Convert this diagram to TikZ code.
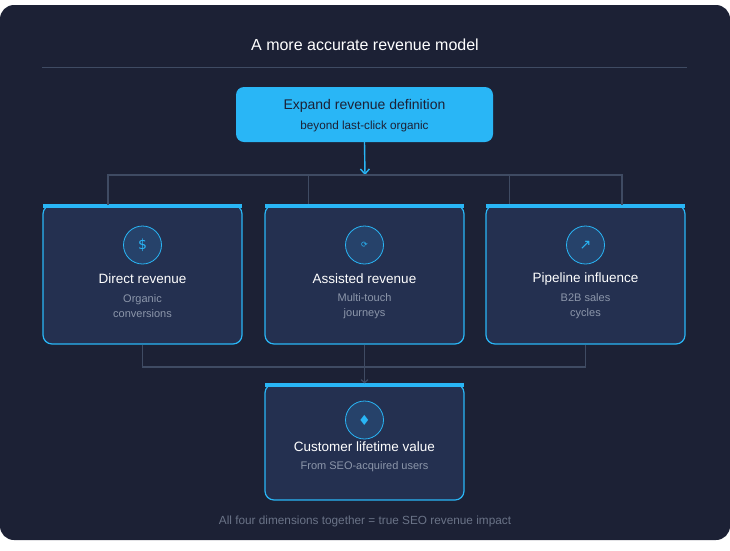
\documentclass[tikz,border=0pt]{standalone}
\usepackage{fontspec}
\usetikzlibrary{arrows.meta}
\setmainfont{Liberation Sans}
\newfontfamily\symfont{DejaVu Sans}
\definecolor{bgdark}{HTML}{1C2135}
\definecolor{cardbg}{HTML}{243050}
\definecolor{skyblue}{HTML}{29B6F6}
\definecolor{linegray}{HTML}{3F4B63}
\definecolor{subgray}{HTML}{8C96AA}
\definecolor{iconbg}{HTML}{26426A}
\tikzset{>=stealth,
  card/.style={draw=skyblue, line width=1.2pt, fill=cardbg, rounded corners=9pt,
    minimum width=199pt, minimum height=139pt, inner sep=0pt},
  icon/.style={circle, draw=skyblue, fill=iconbg, line width=0.8pt, minimum size=38pt,
    text=skyblue, font=\symfont\fontsize{14}{14}\selectfont},
  ctitle/.style={text=white, font=\fontsize{13.5}{16}\selectfont},
  csub/.style={text=subgray, font=\fontsize{11}{15}\selectfont, align=center},
  link/.style={draw=linegray, line width=1.2pt}}

\begin{document}
\begin{tikzpicture}[x=1pt, y=-1pt]
    \useasboundingbox (0,0) rectangle (730,550);
    \fill[bgdark, rounded corners=14pt] (0,5) rectangle (730,540);
    \node (title) at (365,45) [text=white, font=\fontsize{16}{18}\selectfont] {A more accurate revenue model};
    \draw[linegray, line width=0.7pt] (42,67) -- (687,67);

    % top box
    \node (expand) at (364.5,114.5) [fill=skyblue, rounded corners=8pt, minimum width=257pt,
        minimum height=55pt] {};
    \node at (364.5,106) [text=bgdark, font=\fontsize{14}{16}\selectfont] {Expand revenue definition};
    \node at (364.5,126) [text=bgdark, font=\fontsize{11.7}{13}\selectfont] {beyond last-click organic};

    % three cards
    \foreach \cx/\nm/\sym/\ttl/\sub in {142.5/direct/\$/Direct revenue/Organic\\conversions,
        364.5/assisted/{\fontsize{8}{8}\selectfont ⟳}/Assisted revenue/Multi-touch\\journeys,
        585.5/pipeline/↗/Pipeline influence/B2B sales\\cycles}{
      \node (\nm) at (\cx,274.5) [card] {};
      \fill[skyblue] ([xshift=1pt]\nm.north west) rectangle ([xshift=-1pt,yshift=-4pt]\nm.north east);
      \node (\nm-icon) at (\cx,245) [icon] {\sym};
      \node at (\cx,279) [ctitle] {\ttl};
      \node at (\cx,306.5) [csub] {\sub};
    }

    % bottom card
    \node (lifetime) at (364.5,442) [card, minimum height=116pt] {};
    \fill[skyblue] ([xshift=1pt]lifetime.north west) rectangle ([xshift=-1pt,yshift=-4pt]lifetime.north east);
    \node (lifetime-icon) at (364.5,420) [icon] {♦};
    \node at (364.5,447) [ctitle] {Customer lifetime value};
    \node at (364.5,467) [csub] {From SEO-acquired users};

    % connectors
    \coordinate (split) at (365,175);
    \draw[skyblue, line width=1.4pt, ->, >={Straight Barb[length=5pt, width=9pt]}] (expand.south) -- (split);
    \draw[link] (108,205) |- (split) -| (622,205);
    \draw[link] (split) -| ([xshift=-56pt]assisted.north);
    \draw[link] (split) -| ([xshift=-76pt]pipeline.north);
    \coordinate (merge) at (364.5,367);
    \draw[link] (direct.south) |- (merge) -| (pipeline.south);
    \draw[link, ->, >={Straight Barb[length=3pt, width=7pt]}] (assisted.south) -- (lifetime.north);

    \node (footer) at (365,521) [text=subgray!70!bgdark, font=\fontsize{11.8}{13}\selectfont]
        {All four dimensions together = true SEO revenue impact};
\end{tikzpicture}
\end{document}
